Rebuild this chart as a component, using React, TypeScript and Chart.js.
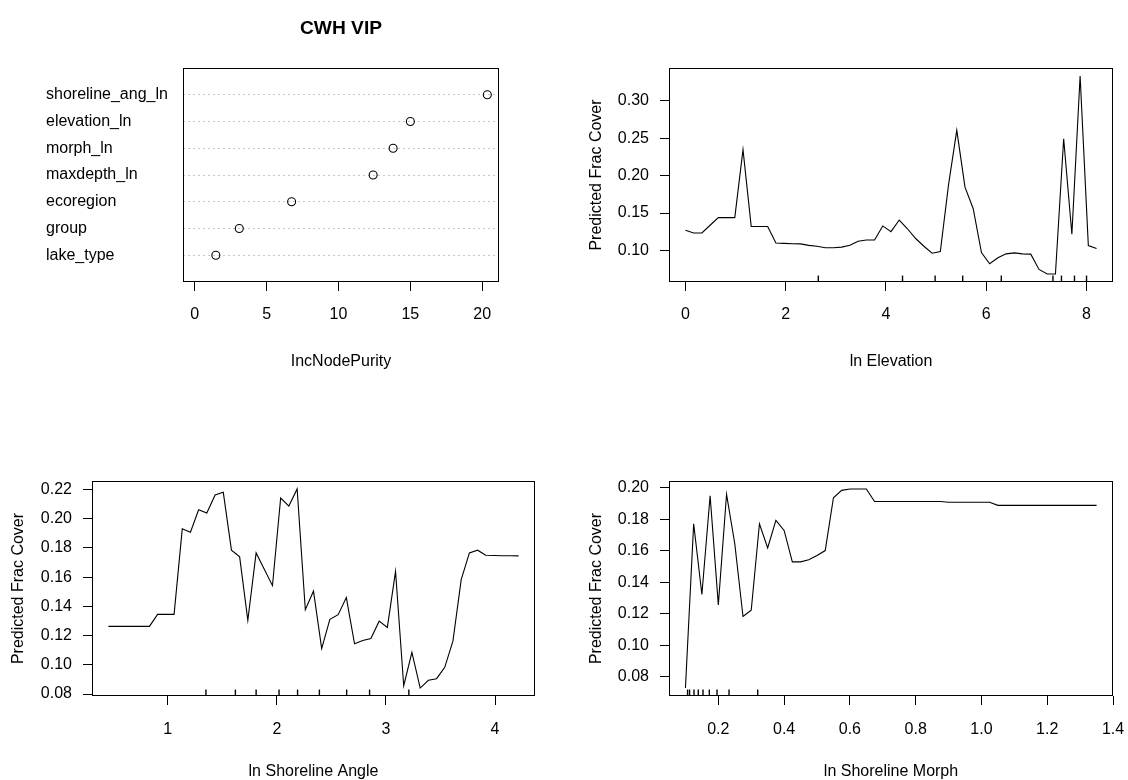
import React, { useEffect, useRef } from "react";
import { Chart, registerables } from "chart.js";

Chart.register(...registerables);

const FONT = "'Liberation Sans', Arial, Helvetica, sans-serif";

// ---------- Panel 1: variable importance (dot chart) ----------
const vipTitle = "CWH VIP";
const vipNames = ["shoreline_ang_ln", "elevation_ln", "morph_ln", "maxdepth_ln", "ecoregion", "group", "lake_type"];
const vipValues = [20.35, 15.0, 13.8, 12.41, 6.74, 3.1, 1.47];
const vipXTicks = [0, 5, 10, 15, 20];

// ---------- Panel 2: ln Elevation ----------
const elevX = [0, 0.164, 0.328, 0.492, 0.656, 0.82, 0.984, 1.148, 1.312, 1.476, 1.64, 1.804, 1.968, 2.132, 2.296, 2.46, 2.624, 2.788, 2.952, 3.116, 3.28, 3.444, 3.608, 3.772, 3.936, 4.1, 4.264, 4.428, 4.592, 4.756, 4.92, 5.084, 5.248, 5.412, 5.576, 5.74, 5.904, 6.068, 6.232, 6.396, 6.56, 6.724, 6.888, 7.052, 7.216, 7.38, 7.544, 7.708, 7.872, 8.036, 8.2];
const elevY = [0.127, 0.1234, 0.1234, 0.1337, 0.1439, 0.1439, 0.1439, 0.2347, 0.132, 0.132, 0.132, 0.11, 0.1095, 0.109, 0.1088, 0.1068, 0.1057, 0.1037, 0.1036, 0.1045, 0.107, 0.1124, 0.114, 0.114, 0.1328, 0.1252, 0.1407, 0.129, 0.116, 0.1057, 0.0964, 0.0986, 0.188, 0.2604, 0.1846, 0.1558, 0.0973, 0.0822, 0.0902, 0.0955, 0.0968, 0.0955, 0.0951, 0.0747, 0.0685, 0.0685, 0.2493, 0.1217, 0.3331, 0.1066, 0.1027];
const elevRug = [2.65, 4.33, 4.98, 5.53, 6.3, 7.33, 7.5, 7.76, 8.0];
const elevXTicks = [0, 2, 4, 6, 8];
const elevYTicks = [0.1, 0.15, 0.2, 0.25, 0.3];

// ---------- Panel 3: ln Shoreline Angle ----------
const angleX = [0.456, 0.531, 0.606, 0.682, 0.757, 0.832, 0.907, 0.982, 1.058, 1.133, 1.208, 1.283, 1.358, 1.434, 1.509, 1.584, 1.659, 1.734, 1.81, 1.885, 1.96, 2.035, 2.11, 2.186, 2.261, 2.336, 2.411, 2.486, 2.562, 2.637, 2.712, 2.787, 2.862, 2.938, 3.013, 3.088, 3.163, 3.238, 3.314, 3.389, 3.464, 3.539, 3.614, 3.69, 3.765, 3.84, 3.915, 3.99, 4.066, 4.141, 4.216];
const angleY = [0.1263, 0.1263, 0.1263, 0.1263, 0.1263, 0.1263, 0.1345, 0.1345, 0.1345, 0.1931, 0.1908, 0.2062, 0.2039, 0.2163, 0.2181, 0.1785, 0.1739, 0.1304, 0.1766, 0.1654, 0.1542, 0.2142, 0.2087, 0.2204, 0.1377, 0.1505, 0.1111, 0.1311, 0.1343, 0.146, 0.1144, 0.1166, 0.118, 0.1299, 0.1256, 0.164, 0.0857, 0.1086, 0.0841, 0.0894, 0.0905, 0.0983, 0.1162, 0.1583, 0.1766, 0.1785, 0.175, 0.1748, 0.1747, 0.1747, 0.1746];
const angleRug = [1.35, 1.62, 1.81, 2.02, 2.19, 2.39, 2.64, 2.85, 3.21];
const angleXTicks = [1, 2, 3, 4];
const angleYTicks = [0.08, 0.1, 0.12, 0.14, 0.16, 0.18, 0.2, 0.22];

// ---------- Panel 4: ln Shoreline Morph ----------
const morphX = [0.1, 0.125, 0.15, 0.175, 0.2, 0.225, 0.25, 0.275, 0.3, 0.325, 0.35, 0.375, 0.4, 0.425, 0.45, 0.475, 0.5, 0.525, 0.55, 0.575, 0.6, 0.625, 0.65, 0.675, 0.7, 0.725, 0.75, 0.775, 0.8, 0.825, 0.85, 0.875, 0.9, 0.925, 0.95, 0.975, 1.0, 1.025, 1.05, 1.075, 1.1, 1.125, 1.15, 1.175, 1.2, 1.225, 1.25, 1.275, 1.3, 1.325, 1.35];
const morphY = [0.0728, 0.1771, 0.1322, 0.1949, 0.1256, 0.1958, 0.1644, 0.1182, 0.1222, 0.1771, 0.1618, 0.1792, 0.1729, 0.1529, 0.1529, 0.1542, 0.157, 0.1601, 0.1936, 0.1983, 0.1992, 0.1992, 0.1992, 0.1912, 0.1912, 0.1912, 0.1912, 0.1912, 0.1912, 0.1912, 0.1912, 0.1912, 0.1908, 0.1908, 0.1908, 0.1908, 0.1908, 0.1908, 0.1888, 0.1888, 0.1888, 0.1888, 0.1888, 0.1888, 0.1888, 0.1888, 0.1888, 0.1888, 0.1888, 0.1888, 0.1888];
const morphRug = [0.1065, 0.1126, 0.126, 0.139, 0.1534, 0.1726, 0.196, 0.2326, 0.3197];
const morphXTicks = [0.2, 0.4, 0.6, 0.8, 1.0, 1.2, 1.4];
const morphYTicks = [0.08, 0.1, 0.12, 0.14, 0.16, 0.18, 0.2];

const yLabel = "Predicted Frac Cover";

// ---------- helpers ----------
type Rect = { x: number; y: number; w: number; h: number };
type Area = { left: number; top: number; right: number; bottom: number };

function padRange(vals: number[], lo?: number): [number, number] {
  const mn = lo !== undefined ? lo : Math.min(...vals);
  const mx = Math.max(...vals);
  const d = (mx - mn) * 0.04;
  return [mn - d, mx + d];
}

const framePlugin = {
  id: "rframe",
  afterDatasetsDraw(chart: any) {
    const { ctx, chartArea: a } = chart;
    ctx.save();
    ctx.strokeStyle = "#000";
    ctx.lineWidth = 1;
    ctx.strokeRect(Math.round(a.left) + 0.5, Math.round(a.top) + 0.5, Math.round(a.right - a.left) - 1, Math.round(a.bottom - a.top) - 1);
    ctx.restore();
  },
};

const tickFont = { size: 16, family: FONT };

function xScale(min: number, max: number, ticks: number[], digits: number, title: string, canvas: Rect, area: Area, tickPad: number, titlePad: number) {
  return {
    type: "linear",
    position: "bottom",
    min,
    max,
    afterBuildTicks: (s: any) => {
      s.ticks = ticks.map((v) => ({ value: v }));
    },
    afterFit: (s: any) => {
      s.height = canvas.y + canvas.h - area.bottom;
      s.paddingLeft = 0;
      s.paddingRight = 0;
    },
    ticks: {
      autoSkip: false,
      maxRotation: 0,
      minRotation: 0,
      padding: tickPad,
      color: "#000",
      font: tickFont,
      callback: (v: any) => Number(v).toFixed(digits),
    },
    grid: { drawOnChartArea: false, drawTicks: true, tickLength: 9, color: "#000", lineWidth: 1 },
    border: { display: false },
    title: { display: true, text: title, color: "#000", font: tickFont, padding: { top: 0, bottom: titlePad } },
  };
}

function linePanel(p: {
  canvas: Rect;
  area: Area;
  xs: number[];
  ys: number[];
  rug: number[];
  xTicks: number[];
  yTicks: number[];
  xDigits: number;
  yDigits: number;
  xTitle: string;
  yTitlePad: number;
  xTickPad: number;
  xTitlePad: number;
}) {
  const [xmin, xmax] = padRange(p.xs);
  const [ymin, ymax] = padRange(p.ys);
  const datasets: any[] = [
    {
      data: p.xs.map((x, i) => ({ x, y: p.ys[i] })),
      showLine: true,
      pointRadius: 0,
      borderColor: "#000",
      borderWidth: 1.1,
      tension: 0,
      xAxisID: "x",
      yAxisID: "y",
    },
    ...p.rug.map((v) => ({
      data: [
        { x: v, y: 0 },
        { x: v, y: 0.03 },
      ],
      showLine: true,
      pointRadius: 0,
      borderColor: "#000",
      borderWidth: 1.4,
      xAxisID: "x",
      yAxisID: "yr",
    })),
  ];
  return {
    type: "scatter",
    data: { datasets },
    plugins: [framePlugin],
    options: {
      animation: false,
      responsive: false,
      events: [],
      layout: {
        padding: { left: 0, top: p.area.top - p.canvas.y, right: p.canvas.x + p.canvas.w - p.area.right, bottom: 0 },
      },
      plugins: { legend: { display: false }, tooltip: { enabled: false }, title: { display: false } },
      scales: {
        x: xScale(xmin, xmax, p.xTicks, p.xDigits, p.xTitle, p.canvas, p.area, p.xTickPad, p.xTitlePad),
        y: {
          type: "linear",
          position: "left",
          min: ymin,
          max: ymax,
          afterBuildTicks: (s: any) => {
            s.ticks = p.yTicks.map((v) => ({ value: v }));
          },
          afterFit: (s: any) => {
            s.width = p.area.left - p.canvas.x;
            s.paddingTop = 0;
            s.paddingBottom = 0;
          },
          ticks: {
            autoSkip: false,
            padding: 11,
            color: "#000",
            font: tickFont,
            callback: (v: any) => Number(v).toFixed(p.yDigits),
          },
          grid: { drawOnChartArea: false, drawTicks: true, tickLength: 9, color: "#000", lineWidth: 1 },
          border: { display: false },
          title: { display: true, text: yLabel, color: "#000", font: tickFont, padding: { top: p.yTitlePad, bottom: 0 } },
        },
        yr: { type: "linear", display: false, min: 0, max: 1 },
      },
    },
  };
}

function vipPanel(canvas: Rect, area: Area) {
  const n = vipNames.length;
  const [xmin, xmax] = padRange(vipValues, 0);
  const labelLeft = 46;
  const titleTop = 17.5;
  return {
    type: "scatter",
    data: {
      datasets: [
        {
          data: vipValues.map((v, i) => ({ x: v, y: n - i })),
          pointStyle: "circle",
          pointRadius: 4,
          pointBorderWidth: 1.1,
          pointBorderColor: "#000",
          pointBackgroundColor: "rgba(0,0,0,0)",
          borderColor: "#000",
          backgroundColor: "rgba(0,0,0,0)",
        },
      ],
    },
    plugins: [framePlugin],
    options: {
      animation: false,
      responsive: false,
      events: [],
      layout: {
        padding: { left: labelLeft, top: 0, right: canvas.x + canvas.w - area.right, bottom: 0 },
      },
      plugins: {
        legend: { display: false },
        tooltip: { enabled: false },
        title: {
          display: true,
          text: vipTitle,
          fullSize: false,
          color: "#000",
          font: { size: 19.2, weight: "bold", family: FONT, lineHeight: 1.2 },
          padding: { top: titleTop, bottom: area.top - canvas.y - titleTop - 23.04 },
        },
      },
      scales: {
        x: xScale(xmin, xmax, vipXTicks, 0, "IncNodePurity", canvas, area, 14.4, 18.4),
        y: {
          type: "linear",
          position: "left",
          min: 0,
          max: n + 1,
          afterBuildTicks: (s: any) => {
            s.ticks = vipNames.map((_, i) => ({ value: n - i }));
          },
          afterFit: (s: any) => {
            s.width = area.left - canvas.x - labelLeft;
            s.paddingTop = 0;
            s.paddingBottom = 0;
          },
          ticks: {
            autoSkip: false,
            crossAlign: "far",
            padding: 0,
            color: "#000",
            font: tickFont,
            callback: (v: any) => vipNames[n - Number(v)],
          },
          grid: { drawOnChartArea: true, drawTicks: false, color: "#C8C8C8", lineWidth: 1 },
          border: { display: false, dash: [2, 3] },
        },
      },
    },
  };
}

function Panel({ canvas, config }: { canvas: Rect; config: () => any }) {
  const ref = useRef<HTMLCanvasElement>(null);
  useEffect(() => {
    const chart = new Chart(ref.current as HTMLCanvasElement, config());
    return () => chart.destroy();
  }, []);
  return (
    <div style={{ position: "absolute", left: canvas.x, top: canvas.y, width: canvas.w, height: canvas.h }}>
      <canvas ref={ref} width={canvas.w} height={canvas.h} style={{ display: "block", width: canvas.w, height: canvas.h }} />
    </div>
  );
}

const cTL: Rect = { x: 0, y: 0, w: 560, h: 390 };
const cTR: Rect = { x: 560, y: 0, w: 568, h: 390 };
const cBL: Rect = { x: 0, y: 390, w: 560, h: 390 };
const cBR: Rect = { x: 560, y: 390, w: 568, h: 390 };

const aTL: Area = { left: 183, top: 68, right: 499, bottom: 282 };
const aTR: Area = { left: 669, top: 68, right: 1113, bottom: 282 };
const aBL: Area = { left: 92, top: 481, right: 535, bottom: 696 };
const aBR: Area = { left: 669, top: 481, right: 1113, bottom: 696 };

export default function App() {
  return (
    <div style={{ position: "absolute", left: 0, top: 0, width: 1128, height: 780, background: "#fff", overflow: "hidden" }}>
      <Panel canvas={cTL} config={() => vipPanel(cTL, aTL)} />
      <Panel
        canvas={cTR}
        config={() =>
          linePanel({
            canvas: cTR, area: aTR, xs: elevX, ys: elevY, rug: elevRug, xTicks: elevXTicks, yTicks: elevYTicks,
            xDigits: 0, yDigits: 2, xTitle: "ln Elevation", yTitlePad: 27.4, xTickPad: 14.4, xTitlePad: 18.4,
          })
        }
      />
      <Panel
        canvas={cBL}
        config={() =>
          linePanel({
            canvas: cBL, area: aBL, xs: angleX, ys: angleY, rug: angleRug, xTicks: angleXTicks, yTicks: angleYTicks,
            xDigits: 0, yDigits: 2, xTitle: "ln Shoreline Angle", yTitlePad: 8.7, xTickPad: 15, xTitlePad: -1.6,
          })
        }
      />
      <Panel
        canvas={cBR}
        config={() =>
          linePanel({
            canvas: cBR, area: aBR, xs: morphX, ys: morphY, rug: morphRug, xTicks: morphXTicks, yTicks: morphYTicks,
            xDigits: 1, yDigits: 2, xTitle: "ln Shoreline Morph", yTitlePad: 27.4, xTickPad: 15, xTitlePad: -1.6,
          })
        }
      />
    </div>
  );
}
